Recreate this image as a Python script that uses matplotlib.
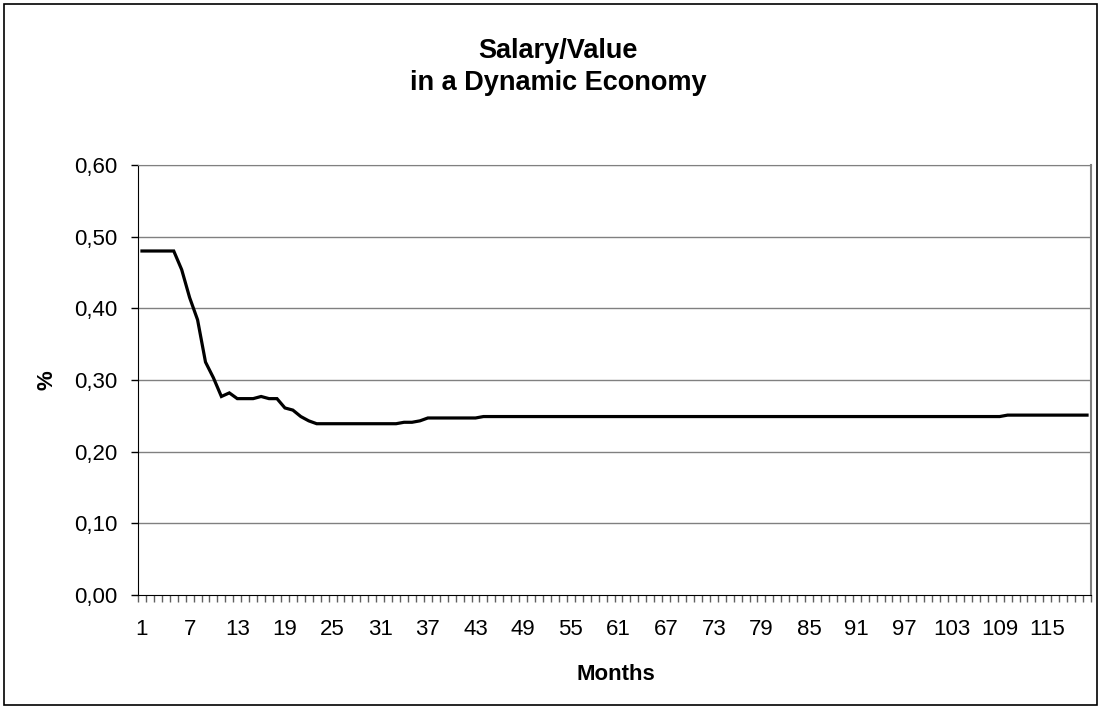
import matplotlib
matplotlib.use("Agg")
import matplotlib.pyplot as plt
from matplotlib.patches import Rectangle
import numpy as np

# salary/value ratio per month
months = list(range(1, 121))
ratio = [
    0.480, 0.480, 0.480, 0.480, 0.480, 0.454, 0.415, 0.384, 0.325, 0.303,
    0.277, 0.282, 0.274, 0.274, 0.274, 0.277, 0.274, 0.274, 0.261, 0.258,
    0.249, 0.243, 0.239, 0.239, 0.239, 0.239, 0.239, 0.239, 0.239, 0.239,
    0.239, 0.239, 0.239, 0.241, 0.241, 0.243, 0.247, 0.247, 0.247, 0.247,
    0.247, 0.247, 0.247, 0.249, 0.249, 0.249, 0.249, 0.249, 0.249, 0.249,
    0.249, 0.249, 0.249, 0.249, 0.249, 0.249, 0.249, 0.249, 0.249, 0.249,
    0.249, 0.249, 0.249, 0.249, 0.249, 0.249, 0.249, 0.249, 0.249, 0.249,
    0.249, 0.249, 0.249, 0.249, 0.249, 0.249, 0.249, 0.249, 0.249, 0.249,
    0.249, 0.249, 0.249, 0.249, 0.249, 0.249, 0.249, 0.249, 0.249, 0.249,
    0.249, 0.249, 0.249, 0.249, 0.249, 0.249, 0.249, 0.249, 0.249, 0.249,
    0.249, 0.249, 0.249, 0.249, 0.249, 0.249, 0.249, 0.249, 0.249, 0.251,
    0.251, 0.251, 0.251, 0.251, 0.251, 0.251, 0.251, 0.251, 0.251, 0.251,
]
y_ticks = [0.0, 0.1, 0.2, 0.3, 0.4, 0.5, 0.6]
label_step = 6

plt.rcParams['font.family'] = ['Liberation Sans', 'DejaVu Sans']

W, H = 1101, 709
fig = plt.figure(figsize=(W / 100, H / 100), dpi=100)
fig.patches.append(Rectangle((0.004, 0.006), 0.992, 0.988, transform=fig.transFigure,
                             fill=False, edgecolor='black', linewidth=1.2))

ax = fig.add_axes([138 / W, 1 - 595 / H, (1091 - 138) / W, (595 - 165) / H])
x = np.arange(len(months))
ax.plot(x, ratio, color='black', linewidth=2.3, solid_joinstyle='miter')

ax.set_xlim(-0.5, len(months) - 0.5)
ax.set_ylim(0, 0.6)

# gridlines
for v in y_ticks[1:]:
    ax.axhline(v, color='#808080', linewidth=1.0, zorder=0)

ax.set_yticks(y_ticks)
ax.set_yticklabels([('%.2f' % v).replace('.', ',') for v in y_ticks], fontsize=16)
ax.tick_params(axis='y', length=5, width=1, color='black', pad=10)

ax.set_xticks(x[::label_step])
ax.set_xticklabels([str(m) for m in months[::label_step]], fontsize=16)
ax.set_xticks(np.arange(-0.5, len(months), 1.0), minor=True)
ax.tick_params(axis='x', which='major', length=0, pad=17)
ax.tick_params(axis='x', which='minor', length=5, width=1, color='#606060')

ax.spines['left'].set_color('black')
ax.spines['bottom'].set_color('black')
ax.spines['top'].set_color('#808080')
ax.spines['right'].set_color('#808080')
ax.spines['right'].set_linewidth(1.5)

# axis titles and chart title
fig.text(616 / W, 1 - 680 / H, 'Months', ha='center', va='baseline',
         fontsize=16, fontweight='bold')
fig.text(47 / W, 1 - 380 / H, '%', ha='center', va='center', rotation=90,
         fontsize=16, fontweight='bold')
fig.text(558 / W, 1 - 58 / H, 'Salary/Value', ha='center', va='baseline',
         fontsize=19.5, fontweight='bold')
fig.text(558 / W, 1 - 90 / H, 'in a Dynamic Economy', ha='center', va='baseline',
         fontsize=19.5, fontweight='bold')

fig.savefig('out.png', dpi=100)
